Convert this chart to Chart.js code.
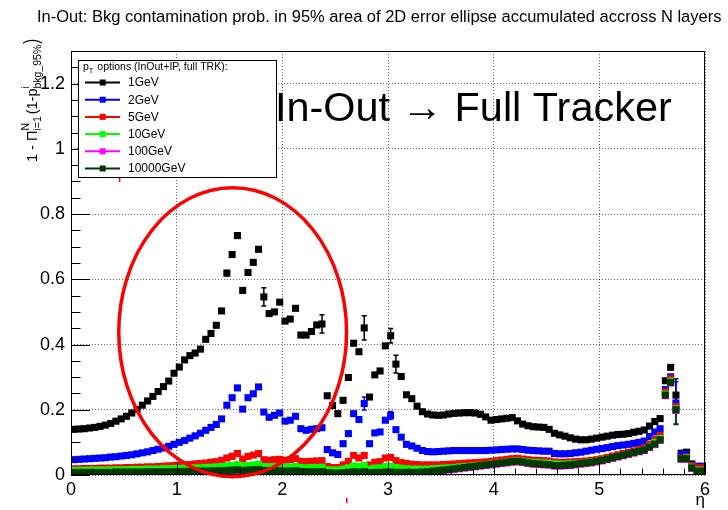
<!DOCTYPE html>
<html>
<head>
<meta charset="utf-8">
<script src="https://cdn.jsdelivr.net/npm/chart.js@4/dist/chart.umd.min.js"></script>
<style>
  html, body { margin: 0; padding: 0; background: #ffffff; }
  #wrap { width: 728px; height: 510px; position: relative; }
</style>
</head>
<body>
<div id="wrap"><canvas id="c" width="728" height="510"></canvas></div>
<script>
const FONT = '"Liberation Sans", Arial, Helvetica, sans-serif';

// eta binning: 120 bins of width 0.05 from 0 to 6
const binLow = 0;
const binWidth = 0.05;

const titleText = 'In-Out: Bkg contamination prob. in 95% area of 2D error ellipse accumulated accross N layers';
const legendHeader = ['p', 'T', ' options (InOut+IP, full TRK):'];
const annotationText = 'In-Out \u2192 Full Tracker';
const xTitle = '\u03B7';

const seriesLabels = ['1GeV', '2GeV', '5GeV', '10GeV', '100GeV', '10000GeV'];
const seriesColors = ['#000000', '#0000ff', '#ff0000', '#00ff00', '#ff00ff', '#003a00'];

// accumulated contamination probability per eta bin (one row = 0.5 in eta)
const pt1GeV = [
  0.140,0.141,0.142,0.144,0.146,0.149,0.153,0.158,0.165,0.172,
  0.180,0.190,0.201,0.214,0.227,0.241,0.256,0.271,0.288,0.312,
  0.331,0.353,0.366,0.374,0.386,0.416,0.434,0.459,0.503,0.619,
  0.676,0.734,0.566,0.621,0.652,0.692,0.546,0.495,0.500,0.530,
  0.472,0.478,0.511,0.429,0.429,0.440,0.460,0.463,0.243,0.213,
  0.188,0.229,0.299,0.404,0.378,0.451,0.239,0.307,0.319,0.396,
  0.427,0.340,0.302,0.246,0.234,0.211,0.194,0.187,0.184,0.183,
  0.184,0.187,0.189,0.190,0.191,0.191,0.190,0.186,0.178,0.168,
  0.170,0.172,0.174,0.176,0.166,0.156,0.151,0.148,0.147,0.146,
  0.140,0.128,0.123,0.119,0.114,0.110,0.108,0.108,0.110,0.113,
  0.116,0.119,0.122,0.124,0.125,0.127,0.131,0.134,0.138,0.150,
  0.164,0.173,0.289,0.330,0.245,0.067,0.070,0.034,0.024,0.024
];
const pt2GeV = [
  0.047,0.048,0.049,0.050,0.051,0.052,0.053,0.055,0.056,0.058,
  0.060,0.062,0.065,0.068,0.071,0.075,0.079,0.083,0.088,0.094,
  0.100,0.106,0.113,0.120,0.128,0.137,0.146,0.155,0.172,0.214,
  0.237,0.267,0.202,0.237,0.249,0.270,0.193,0.177,0.183,0.190,
  0.165,0.168,0.180,0.142,0.137,0.140,0.142,0.145,0.078,0.068,
  0.063,0.096,0.127,0.188,0.170,0.219,0.096,0.129,0.132,0.168,
  0.183,0.139,0.116,0.094,0.089,0.082,0.075,0.072,0.071,0.072,
  0.073,0.074,0.075,0.075,0.075,0.075,0.075,0.075,0.075,0.076,
  0.077,0.078,0.079,0.080,0.080,0.078,0.076,0.075,0.074,0.073,
  0.073,0.066,0.065,0.065,0.066,0.068,0.070,0.073,0.076,0.079,
  0.081,0.084,0.087,0.090,0.092,0.094,0.097,0.100,0.104,0.118,
  0.132,0.142,0.262,0.301,0.221,0.063,0.063,0.030,0.027,0.027
];
const pt5GeV = [
  0.019,0.019,0.020,0.020,0.020,0.021,0.021,0.021,0.022,0.022,
  0.023,0.023,0.024,0.024,0.025,0.025,0.026,0.027,0.028,0.029,
  0.030,0.031,0.032,0.034,0.035,0.037,0.039,0.041,0.045,0.052,
  0.057,0.066,0.049,0.057,0.061,0.066,0.047,0.045,0.047,0.048,
  0.045,0.047,0.050,0.042,0.041,0.042,0.043,0.044,0.026,0.023,
  0.023,0.031,0.042,0.060,0.052,0.060,0.031,0.039,0.041,0.052,
  0.054,0.044,0.038,0.035,0.033,0.032,0.031,0.031,0.031,0.031,
  0.032,0.033,0.034,0.035,0.036,0.037,0.038,0.039,0.040,0.042,
  0.044,0.046,0.048,0.050,0.051,0.049,0.047,0.045,0.045,0.044,
  0.043,0.040,0.039,0.039,0.040,0.041,0.042,0.043,0.045,0.047,
  0.050,0.054,0.058,0.062,0.066,0.070,0.074,0.078,0.083,0.095,
  0.109,0.121,0.255,0.295,0.210,0.052,0.055,0.028,0.022,0.022
];
const pt10GeV = [
  0.014,0.014,0.014,0.015,0.015,0.015,0.015,0.016,0.016,0.016,
  0.016,0.017,0.017,0.017,0.018,0.018,0.018,0.019,0.019,0.020,
  0.020,0.021,0.021,0.022,0.022,0.023,0.024,0.025,0.026,0.028,
  0.029,0.032,0.027,0.029,0.031,0.033,0.026,0.025,0.026,0.026,
  0.025,0.025,0.026,0.023,0.022,0.023,0.023,0.024,0.016,0.015,
  0.015,0.018,0.022,0.028,0.026,0.029,0.018,0.021,0.022,0.026,
  0.027,0.023,0.021,0.019,0.018,0.018,0.018,0.018,0.019,0.020,
  0.021,0.022,0.023,0.025,0.026,0.027,0.029,0.030,0.032,0.034,
  0.036,0.038,0.040,0.042,0.043,0.042,0.040,0.038,0.038,0.037,
  0.036,0.034,0.033,0.033,0.034,0.035,0.036,0.038,0.040,0.042,
  0.045,0.049,0.053,0.057,0.061,0.065,0.069,0.073,0.077,0.088,
  0.100,0.112,0.248,0.288,0.203,0.050,0.052,0.024,0.015,0.014
];
const pt100GeV = [
  0.006,0.006,0.006,0.006,0.006,0.006,0.006,0.006,0.007,0.007,
  0.007,0.007,0.007,0.007,0.008,0.008,0.008,0.008,0.008,0.009,
  0.009,0.009,0.009,0.010,0.010,0.010,0.011,0.011,0.011,0.012,
  0.013,0.014,0.012,0.013,0.014,0.015,0.012,0.011,0.011,0.011,
  0.010,0.010,0.011,0.009,0.008,0.008,0.008,0.008,0.005,0.004,
  0.004,0.005,0.006,0.008,0.007,0.008,0.005,0.006,0.006,0.007,
  0.007,0.006,0.006,0.006,0.006,0.006,0.007,0.008,0.010,0.012,
  0.013,0.015,0.017,0.019,0.021,0.023,0.025,0.027,0.029,0.031,
  0.033,0.035,0.037,0.039,0.040,0.038,0.035,0.033,0.032,0.031,
  0.030,0.027,0.027,0.028,0.029,0.031,0.033,0.035,0.037,0.040,
  0.043,0.047,0.051,0.055,0.059,0.063,0.067,0.071,0.075,0.084,
  0.093,0.106,0.243,0.282,0.198,0.048,0.048,0.020,0.010,0.010
];
const pt10000GeV = [
  0.008,0.008,0.008,0.008,0.008,0.008,0.008,0.008,0.009,0.009,
  0.009,0.009,0.009,0.009,0.010,0.010,0.010,0.010,0.010,0.011,
  0.011,0.011,0.011,0.012,0.012,0.012,0.013,0.013,0.013,0.014,
  0.015,0.016,0.014,0.015,0.016,0.017,0.014,0.013,0.013,0.013,
  0.012,0.012,0.013,0.011,0.010,0.010,0.010,0.010,0.007,0.006,
  0.006,0.007,0.008,0.010,0.009,0.010,0.007,0.008,0.008,0.009,
  0.009,0.008,0.008,0.008,0.008,0.008,0.009,0.010,0.012,0.014,
  0.015,0.017,0.019,0.021,0.023,0.025,0.027,0.029,0.031,0.033,
  0.035,0.037,0.039,0.041,0.042,0.040,0.037,0.035,0.034,0.033,
  0.032,0.029,0.029,0.030,0.031,0.033,0.035,0.037,0.039,0.042,
  0.045,0.049,0.053,0.057,0.061,0.065,0.069,0.073,0.077,0.086,
  0.095,0.108,0.245,0.284,0.200,0.050,0.050,0.022,0.012,0.012
];
const seriesValues = [pt1GeV, pt2GeV, pt5GeV, pt10GeV, pt100GeV, pt10000GeV];

// statistical errors on selected bins: [eta, error]
const err1GeV = [[1.475,0.008],[1.575,0.008],[1.825,0.028],[2.375,0.028],[2.775,0.037],[3.025,0.022],[3.075,0.027],[5.725,0.05]];
const err2GeV = [[2.775,0.02],[3.025,0.012],[5.725,0.065]];
const err10000GeV = [[5.725,0.045]];
const seriesErrors = [err1GeV, err2GeV, [], [], [], err10000GeV];

// highlighted region (data coordinates): centre eta, centre value, half-widths
const ellipseCenter = [1.53, 0.438];
const ellipseRadii = [1.078, 0.443];

const toPoints = vals => vals.map((v, i) => ({ x: binLow + binWidth * (i + 0.5), y: v }));

const MARK = 5; // square marker radius (side = radius * sqrt2)

const datasets = seriesValues.map((vals, k) => ({
  label: seriesLabels[k],
  data: toPoints(vals),
  showLine: false,
  pointStyle: 'rect',
  pointRadius: MARK,
  pointHoverRadius: MARK,
  pointBorderWidth: 0,
  pointBackgroundColor: seriesColors[k],
  borderColor: seriesColors[k],
  backgroundColor: seriesColors[k],
  order: seriesValues.length - k
}));

function fitFont(ctx, text, width) {
  ctx.font = '100px ' + FONT;
  const w = ctx.measureText(text).width;
  return 100 * width / w;
}

// ROOT-style frame with inward ticks
const framePlugin = {
  id: 'frame',
  afterDatasetsDraw(chart) {
    const { ctx, chartArea: a, scales: { x, y } } = chart;
    ctx.save();
    ctx.strokeStyle = '#000';
    ctx.lineWidth = 1;
    ctx.beginPath();
    ctx.rect(a.left + 0.5, a.top + 0.5, a.right - a.left - 1, a.bottom - a.top - 1);
    ctx.stroke();
    ctx.beginPath();
    for (let k = 0; k <= 26; k++) {
      const v = k * 0.05;
      const py = Math.round(y.getPixelForValue(v)) + 0.5;
      const len = (k % 4 === 0) ? 19 : 9.5;
      ctx.moveTo(a.left, py); ctx.lineTo(a.left + len, py);
    }
    for (let k = 0; k <= 30; k++) {
      const v = k * 0.2;
      const px = Math.round(x.getPixelForValue(v)) + 0.5;
      const len = (k % 5 === 0) ? 12.7 : 6.4;
      ctx.moveTo(px, a.bottom); ctx.lineTo(px, a.bottom - len);
    }
    ctx.stroke();
    ctx.restore();
  }
};

// vertical error bars with end serifs
const errorPlugin = {
  id: 'errors',
  beforeDatasetsDraw(chart) {
    const { ctx, scales: { x, y } } = chart;
    ctx.save();
    ctx.lineWidth = 1.5;
    seriesErrors.forEach((list, k) => {
      ctx.strokeStyle = seriesColors[k];
      list.forEach(([eta, e]) => {
        const i = Math.round((eta - binLow) / binWidth - 0.5);
        const v = seriesValues[k][i];
        const px = x.getPixelForValue(binLow + binWidth * (i + 0.5));
        const y1 = y.getPixelForValue(v - e), y2 = y.getPixelForValue(v + e);
        ctx.beginPath();
        ctx.moveTo(px, y1); ctx.lineTo(px, y2);
        ctx.moveTo(px - 2.5, y1); ctx.lineTo(px + 2.5, y1);
        ctx.moveTo(px - 2.5, y2); ctx.lineTo(px + 2.5, y2);
        ctx.stroke();
      });
    });
    ctx.restore();
  }
};

// title, axis titles, legend box, highlight ellipse and note
const decorPlugin = {
  id: 'decor',
  afterDraw(chart) {
    const { ctx, chartArea: a, scales: { x, y } } = chart;
    ctx.save();
    ctx.fillStyle = '#000';

    // main title
    const ts = fitFont(ctx, titleText, 685);
    ctx.font = ts + 'px ' + FONT;
    ctx.textBaseline = 'middle';
    ctx.textAlign = 'left';
    ctx.fillText(titleText, 37, 17);

    // x axis title
    ctx.font = '17px ' + FONT;
    ctx.textAlign = 'right';
    ctx.textBaseline = 'alphabetic';
    ctx.fillText(xTitle, a.right, 505);

    // y axis title, rotated, with sub/superscripts
    ctx.save();
    ctx.translate(37, 162);
    ctx.rotate(-Math.PI / 2);
    ctx.textAlign = 'left';
    ctx.textBaseline = 'alphabetic';
    const big = '14.5px ' + FONT, small = '10.5px ' + FONT;
    let cx = 0;
    const put = (t, f, dy) => { ctx.font = f; ctx.fillText(t, cx, dy); return ctx.measureText(t).width; };
    cx += put('1 - ', big, 0);
    cx += put('\u03A0', big, 0);
    const wN = put('N', small, -8);
    const wI = put('i=1', small, 4);
    cx += Math.max(wN, wI) + 2;
    cx += put('(1-p', big, 0);
    const wi = put('i', small, -8);
    const wb = put('bkg_95%', small, 4);
    cx += Math.max(wi, wb) + 1;
    ctx.save();
    ctx.translate(cx, 0); ctx.scale(1, 1.35);
    ctx.font = big; ctx.fillText(')', 0, 1);
    ctx.restore();
    ctx.restore();

    // highlight ellipse
    const ex = x.getPixelForValue(ellipseCenter[0]);
    const ey = y.getPixelForValue(ellipseCenter[1]);
    const erx = x.getPixelForValue(ellipseCenter[0] + ellipseRadii[0]) - ex;
    const ery = ey - y.getPixelForValue(ellipseCenter[1] + ellipseRadii[1]);
    ctx.strokeStyle = '#ff0000';
    ctx.lineWidth = 3.5;
    ctx.beginPath();
    ctx.ellipse(ex, ey, erx, ery, 0, 0, Math.PI * 2);
    ctx.stroke();

    // small red strokes
    ctx.lineWidth = 1.5;
    ctx.beginPath();
    const m1x = x.getPixelForValue(0.46), m1y = y.getPixelForValue(0.906);
    ctx.moveTo(m1x, m1y - 2.5); ctx.lineTo(m1x, m1y + 2.5);
    const m2x = x.getPixelForValue(2.61), m2y = y.getPixelForValue(-0.078);
    ctx.moveTo(m2x, m2y - 2.5); ctx.lineTo(m2x, m2y + 2.5);
    ctx.stroke();

    // note text
    const ns = fitFont(ctx, annotationText, 397);
    ctx.font = ns + 'px ' + FONT;
    ctx.fillStyle = '#000';
    ctx.textAlign = 'left';
    ctx.textBaseline = 'alphabetic';
    ctx.fillText(annotationText, x.getPixelForValue(1.93), y.getPixelForValue(1.085));

    // legend
    const L = 78.5, T = 60.5, R = 276.5, B = 177.5;
    ctx.fillStyle = '#fff';
    ctx.fillRect(L, T, R - L, B - T);
    ctx.strokeStyle = '#000';
    ctx.lineWidth = 1;
    ctx.strokeRect(L, T, R - L, B - T);
    ctx.fillStyle = '#000';
    ctx.textBaseline = 'alphabetic';
    ctx.font = '10.5px ' + FONT;
    let hx = 83;
    ctx.fillText(legendHeader[0], hx, 70);
    hx += ctx.measureText(legendHeader[0]).width;
    ctx.font = '7.5px ' + FONT;
    ctx.fillText(legendHeader[1], hx, 73);
    hx += ctx.measureText(legendHeader[1]).width + 1;
    ctx.font = '10.5px ' + FONT;
    ctx.fillText(legendHeader[2], hx, 70);
    seriesLabels.forEach((lab, k) => {
      const ry = 82.5 + 17.2 * k;
      ctx.strokeStyle = seriesColors[k];
      ctx.lineWidth = 2;
      ctx.beginPath(); ctx.moveTo(85, ry); ctx.lineTo(120, ry); ctx.stroke();
      ctx.fillStyle = seriesColors[k];
      ctx.fillRect(102.7 - 3, ry - 3, 6, 6);
      ctx.fillStyle = '#000';
      ctx.font = '12px ' + FONT;
      ctx.textBaseline = 'middle';
      ctx.fillText(lab, 128, ry + 0.5);
    });
    ctx.restore();
  }
};

new Chart(document.getElementById('c'), {
  type: 'scatter',
  data: { datasets },
  options: {
    responsive: false,
    animation: false,
    devicePixelRatio: 1,
    events: [],
    layout: { padding: { left: 0, top: 51, right: 23, bottom: 0 } },
    plugins: { legend: { display: false }, title: { display: false }, tooltip: { enabled: false } },
    scales: {
      x: {
        type: 'linear', min: 0, max: 6,
        afterFit(s) { s.height = 35; },
        grid: { color: 'rgba(0,0,0,0.6)', lineWidth: 1, drawTicks: false },
        border: { display: false, dash: [1, 2] },
        ticks: { stepSize: 1, includeBounds: false, padding: 4, color: '#000', maxRotation: 0,
                 font: { family: FONT, size: 18 }, callback: v => String(v) }
      },
      y: {
        type: 'linear', min: 0, max: 1.3,
        afterFit(s) { s.width = 71; },
        grid: { color: 'rgba(0,0,0,0.6)', lineWidth: 1, drawTicks: false },
        border: { display: false, dash: [1, 2] },
        ticks: { stepSize: 0.2, includeBounds: false, padding: 6, color: '#000',
                 font: { family: FONT, size: 18 }, callback: v => String(Math.round(v * 10) / 10) }
      }
    }
  },
  plugins: [errorPlugin, framePlugin, decorPlugin]
});
</script>
</body>
</html>
